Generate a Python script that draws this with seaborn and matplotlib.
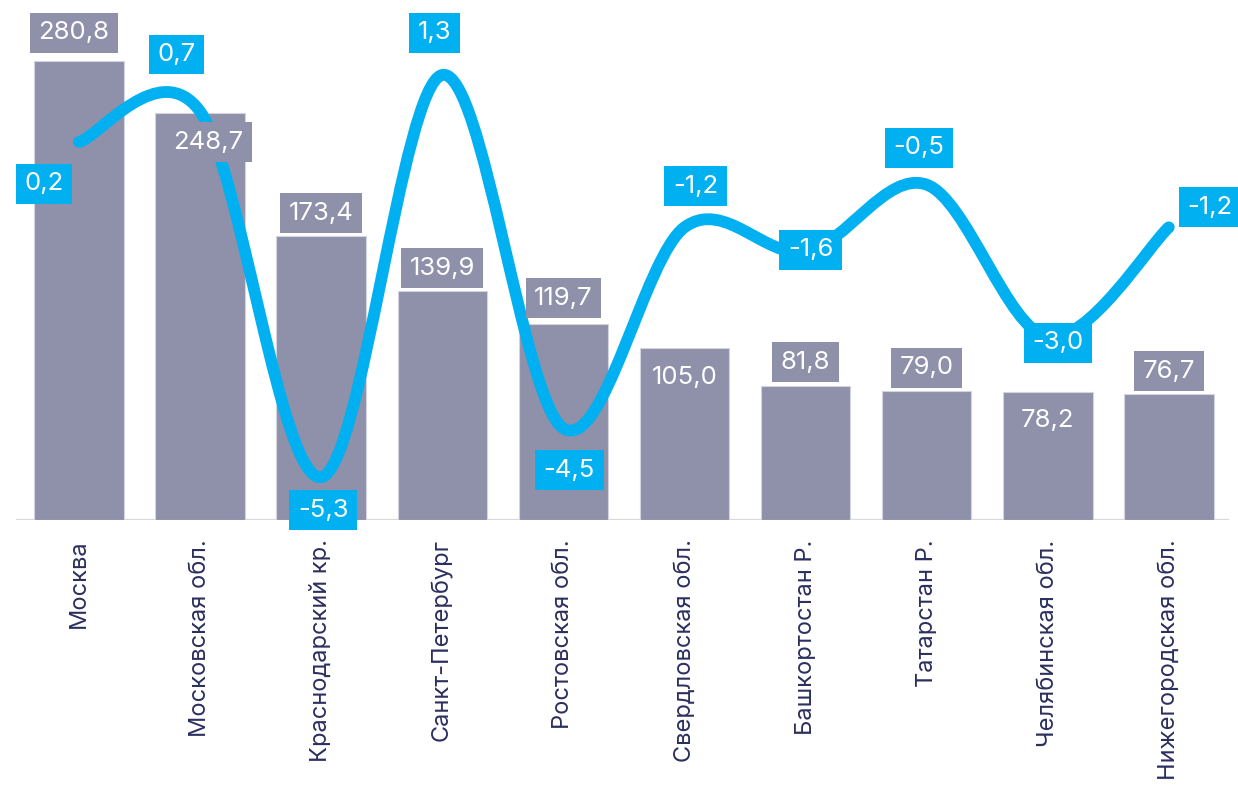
import numpy as np
import matplotlib
matplotlib.use('Agg')
import matplotlib.pyplot as plt
from matplotlib.path import Path
from matplotlib.patches import PathPatch
import seaborn as sns

# data
regions = ['Москва', 'Московская обл.', 'Краснодарский кр.', 'Санкт-Петербург',
           'Ростовская обл.', 'Свердловская обл.', 'Башкортостан Р.', 'Татарстан Р.',
           'Челябинская обл.', 'Нижегородская обл.']
bar_values = [280.8, 248.7, 173.4, 139.9, 119.7, 105.0, 81.8, 79.0, 78.2, 76.7]
line_values = [0.2, 0.7, -5.3, 1.3, -4.5, -1.2, -1.6, -0.5, -3.0, -1.2]

# label placement (pixels from the mark)
bar_label_offsets = [(-5, 28), (8, -29), (0, 23), (0, 23), (0, 26),
                     (0, -29), (0, 24), (0, 23), (0, -29), (0, 23)]
line_label_offsets = [(-35, -42), (-24, 57), (2, -33), (-8, 42), (6, -42),
                      (11, 41), (5, 2), (-8, 37), (10, -6), (41, 20)]

BAR = '#8F90AA'
BLUE = '#00B0F0'
TXT = '#2B2F5E'

sns.set_style('white')
plt.rcParams['font.family'] = ['Inter', 'DejaVu Sans']


def fmt(v):
    return f'{v:.1f}'.replace('.', ',')


fig = plt.figure(figsize=(12.38, 7.9), dpi=100)
ax = fig.add_axes([0.013, 0.342, 0.980, 0.658])

sns.barplot(x=regions, y=bar_values, color=BAR, width=0.74, saturation=1,
            edgecolor='#D4D4DE', linewidth=0.8, ax=ax)
ax.set_ylim(0, 318)
ax.set_xlim(-0.52, 9.5)
ax.axhline(0, color='#D9D9D9', lw=1.6, zorder=0.5)
for s in ax.spines.values():
    s.set_visible(False)
ax.set_yticks([])
ax.set_xlabel('')
ax.tick_params(axis='x', length=0, pad=14, labelsize=17, labelcolor=TXT)
plt.setp(ax.get_xticklabels(), rotation=90, va='top', ha='center')

# secondary axis for the smoothed line
ax2 = ax.twinx()
ax2.set_ylim(-6, 2.53)
ax2.set_yticks([])
for s in ax2.spines.values():
    s.set_visible(False)

pts = np.column_stack([np.arange(len(line_values)), line_values]).astype(float)
ext = np.vstack([pts[0], pts, pts[-1]])
verts = [pts[0]]
codes = [Path.MOVETO]
for i in range(len(pts) - 1):
    p0, p1, p2, p3 = ext[i], ext[i + 1], ext[i + 2], ext[i + 3]
    verts += [p1 + (p2 - p0) / 6, p2 - (p3 - p1) / 6, p2]
    codes += [Path.CURVE4] * 3
patch = PathPatch(Path(verts, codes), facecolor='none', edgecolor=BLUE, lw=8.5,
                  capstyle='round', joinstyle='round', zorder=2)
ax2.add_patch(patch)

box = dict(boxstyle='square,pad=0.33', lw=0)
for i, v in enumerate(bar_values):
    ax2.annotate(fmt(v), xy=(i, v), xycoords=ax.transData,
                 xytext=bar_label_offsets[i], textcoords='offset pixels',
                 ha='center', va='center', fontsize=18.5, color='white',
                 bbox=dict(box, fc=BAR), zorder=3)

for i, v in enumerate(line_values):
    ax2.annotate(fmt(v), xy=(i, v), xytext=line_label_offsets[i],
                 textcoords='offset pixels', ha='center', va='center',
                 fontsize=18.5, color='white', bbox=dict(box, fc=BLUE),
                 zorder=4, annotation_clip=False)

fig.savefig('out.png', dpi=100)
